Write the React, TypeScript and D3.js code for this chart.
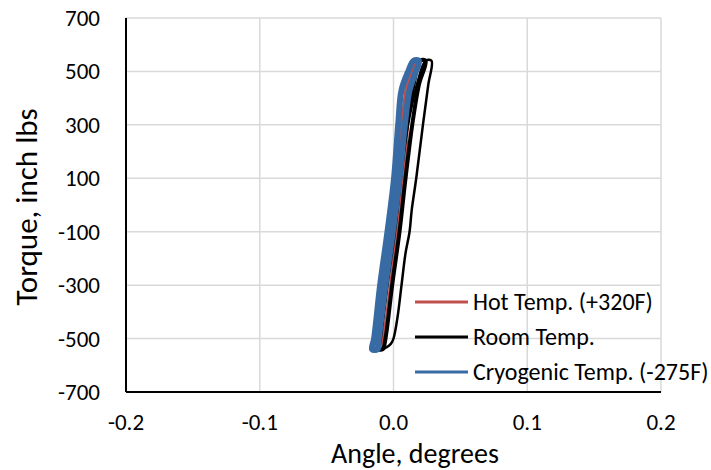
import React, { useEffect, useRef } from 'react';
import * as d3 from 'd3';

// [angle (deg), torque (inch lbs)]
const hotLoop: [number, number][] = [
  [-0.014, -540], [-0.012, -450], [-0.006, -250], [0.0, 0], [0.005, 250], [0.010, 450], [0.014, 540],
  [0.018, 540], [0.0137, 500], [0.011, 350], [0.0087, 170], [0.004, -50], [-0.002, -300], [-0.007, -480], [-0.010, -540],
];

const roomInner: [number, number][] = [
  [-0.011, -540], [-0.010, -500], [-0.005, -300], [0.0005, -100], [0.005, 100], [0.010, 300], [0.015, 450], [0.020, 540],
  [0.024, 540], [0.019, 450], [0.014, 300], [0.009, 100], [0.0045, -100], [-0.001, -300], [-0.006, -500], [-0.008, -540],
];

const roomOuter: [number, number][] = [
  [-0.009, -540], [-0.006, -535], [-0.002, -520], [0.0, -500], [0.003, -420], [0.006, -300], [0.009, -180],
  [0.012, -100], [0.0136, -20], [0.017, 100], [0.022, 300], [0.026, 450], [0.0284, 540],
  [0.024, 540], [0.018, 460], [0.012, 330], [0.007, 180], [0.002, 0], [-0.003, -200], [-0.008, -400], [-0.011, -540],
];

const cryoLoop: [number, number][] = [
  [-0.016, -540], [-0.0145, -500], [-0.010, -300], [-0.0045, -100], [0.0004, 100], [0.0035, 300], [0.006, 430], [0.011, 500], [0.015, 540],
  [0.019, 540], [0.016, 490], [0.012, 430], [0.0085, 300], [0.0045, 100], [-0.0005, -100], [-0.006, -300], [-0.011, -500], [-0.012, -540],
];

const xTicks = [-0.2, -0.1, 0.0, 0.1, 0.2];
const yTicks = [700, 500, 300, 100, -100, -300, -500, -700];

const legendItems = [
  { label: 'Hot Temp. (+320F)', color: '#c0504d' },
  { label: 'Room Temp.', color: '#000000' },
  { label: 'Cryogenic Temp. (-275F)', color: '#386ba3' },
];

const FONT = 'Carlito, Calibri, Lato, sans-serif';

export default function App() {
  const ref = useRef<SVGSVGElement>(null);

  useEffect(() => {
    const svg = d3.select(ref.current);
    svg.selectAll('*').remove();

    const left = 126, right = 661, top = 18, bottom = 392;
    const x = d3.scaleLinear().domain([-0.2, 0.2]).range([left, right]);
    const y = d3.scaleLinear().domain([-700, 700]).range([bottom, top]);

    // grid
    svg.append('g').selectAll('line').data(yTicks).enter().append('line')
      .attr('x1', left).attr('x2', right)
      .attr('y1', (d) => y(d)).attr('y2', (d) => y(d))
      .attr('stroke', '#d9d9d9').attr('stroke-width', 1.5);
    svg.append('g').selectAll('line').data(xTicks).enter().append('line')
      .attr('x1', (d) => x(d)).attr('x2', (d) => x(d))
      .attr('y1', top).attr('y2', bottom)
      .attr('stroke', '#d9d9d9').attr('stroke-width', 1.5);

    // tick labels
    svg.append('g').selectAll('text').data(yTicks).enter().append('text')
      .attr('x', left - 26).attr('y', (d) => y(d) + 8)
      .attr('text-anchor', 'end').attr('font-family', FONT).attr('font-size', 23)
      .text((d) => String(d));
    svg.append('g').selectAll('text').data(xTicks).enter().append('text')
      .attr('x', (d) => x(d)).attr('y', 430)
      .attr('text-anchor', 'middle').attr('font-family', FONT).attr('font-size', 23)
      .text((d) => d.toFixed(1));

    // titles
    svg.append('text')
      .attr('x', 415).attr('y', 463)
      .attr('text-anchor', 'middle').attr('font-family', FONT).attr('font-size', 28)
      .text('Angle, degrees');
    svg.append('text')
      .attr('transform', `translate(37,207) rotate(-90)`)
      .attr('text-anchor', 'middle').attr('font-family', FONT).attr('font-size', 31)
      .text('Torque, inch lbs');

    const line = d3.line<[number, number]>()
      .x((d) => x(d[0])).y((d) => y(d[1]))
      .curve(d3.curveCatmullRomClosed);

    const draw = (pts: [number, number][], color: string, w: number) =>
      svg.append('path').attr('d', line(pts)).attr('fill', 'none')
        .attr('stroke', color).attr('stroke-width', w).attr('stroke-linejoin', 'round');

    draw(hotLoop, '#c0504d', 3.5);
    draw(roomInner, '#000000', 4);
    draw(roomOuter, '#000000', 2.5);
    draw(cryoLoop, '#386ba3', 6);

    // axis lines
    svg.append('line').attr('x1', left).attr('x2', left).attr('y1', top).attr('y2', bottom)
      .attr('stroke', '#000').attr('stroke-width', 2);
    svg.append('line').attr('x1', left).attr('x2', right).attr('y1', bottom).attr('y2', bottom)
      .attr('stroke', '#000').attr('stroke-width', 2);

    // legend
    const rowY = [302, 337, 372];
    const lg = svg.append('g').selectAll('g').data(legendItems).enter().append('g')
      .attr('transform', (d, i) => `translate(415,${rowY[i]})`);
    lg.append('line').attr('x1', 0).attr('x2', 53).attr('y1', 0).attr('y2', 0)
      .attr('stroke', (d) => d.color).attr('stroke-width', 3);
    lg.append('text').attr('x', 58).attr('y', 8)
      .attr('font-family', FONT).attr('font-size', 24)
      .text((d) => d.label);
  }, []);

  return (
    <svg
      ref={ref}
      width={711}
      height={470}
      style={{ display: 'block', position: 'absolute', left: 0, top: 0 }}
    />
  );
}
